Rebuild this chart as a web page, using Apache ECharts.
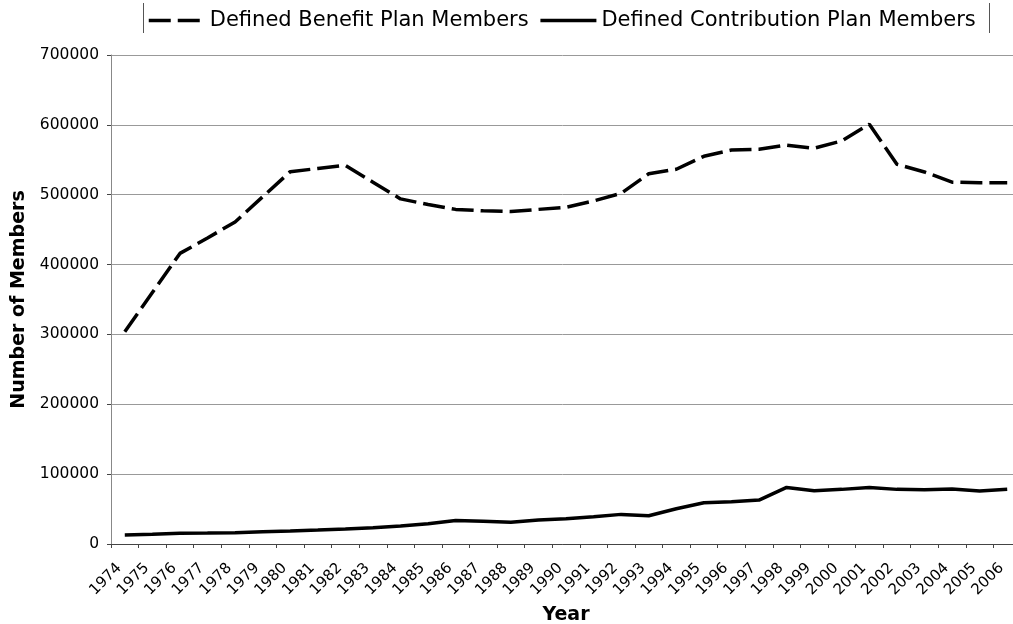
<!DOCTYPE html>
<html>
<head>
<meta charset="utf-8">
<script src="https://cdn.jsdelivr.net/npm/echarts@6/dist/echarts.min.js"></script>
<style>
  html, body { margin: 0; padding: 0; background: #fff; }
  #chart { width: 1013px; height: 624px; }
</style>
</head>
<body>
<div id="chart"></div>
<script>
// Pension plan membership by year
const years = ['1974','1975','1976','1977','1978','1979','1980','1981','1982','1983','1984',
  '1985','1986','1987','1988','1989','1990','1991','1992','1993','1994','1995','1996','1997',
  '1998','1999','2000','2001','2002','2003','2004','2005','2006'];

const definedBenefit = [304000, 360000, 416000, 438000, 461000, 497000, 533000, 537500, 542000,
  518000, 494000, 486000, 479000, 477000, 476000, 479000, 482000, 491000, 502000, 530000,
  536500, 555000, 564000, 565000, 571000, 566500, 577000, 601000, 543600, 532600, 518000,
  517000, 517000];

const definedContribution = [13000, 13800, 15300, 15700, 16200, 17600, 18600, 20000, 21500,
  23400, 25800, 29100, 33800, 32400, 31000, 34300, 36200, 39100, 42400, 40500, 50500, 59100,
  60500, 62900, 81000, 76300, 78200, 81000, 78200, 77700, 78700, 75800, 78200];

const seriesNames = ['Defined Benefit Plan Members', 'Defined Contribution Plan Members'];
const xTitle = 'Year';
const yTitle = 'Number of Members';

const FONT = 'DejaVu Sans';
const DASH = [22, 7];

const chart = echarts.init(document.getElementById('chart'), null, { renderer: 'canvas' });

chart.setOption({
  animation: false,
  backgroundColor: '#fff',
  textStyle: { fontFamily: FONT, color: '#000' },
  legend: {
    left: 147,
    top: 10,
    padding: 0,
    itemWidth: 56,
    itemHeight: 14,
    itemGap: 10,
    itemStyle: { opacity: 0 },
    lineStyle: { width: 3.5, cap: 'butt' },
    textStyle: { fontFamily: FONT, fontSize: 21, color: '#000' },
    data: seriesNames
  },
  graphic: [
    { type: 'line', shape: { x1: 143.5, y1: 3, x2: 143.5, y2: 33 }, style: { stroke: '#555', lineWidth: 1 } },
    { type: 'line', shape: { x1: 989.5, y1: 3, x2: 989.5, y2: 33 }, style: { stroke: '#555', lineWidth: 1 } }
  ],
  grid: { left: 111, right: -8, top: 55, bottom: 80, containLabel: false, outerBoundsMode: 'none' },
  xAxis: {
    type: 'category',
    data: years,
    boundaryGap: true,
    name: xTitle,
    nameLocation: 'middle',
    nameGap: 62,
    nameTextStyle: { fontFamily: FONT, fontSize: 19, fontWeight: 'bold', color: '#000' },
    axisLine: { lineStyle: { color: '#444', width: 1 } },
    axisTick: { show: true, alignWithLabel: false, length: 4, lineStyle: { color: '#444' } },
    axisLabel: {
      rotate: 45, interval: 0, margin: 16, padding: [0, 8, 0, 0],
      fontFamily: FONT, fontSize: 15, color: '#000'
    },
    splitLine: { show: false }
  },
  yAxis: {
    type: 'value',
    min: 0,
    max: 700000,
    interval: 100000,
    name: yTitle,
    nameLocation: 'middle',
    nameRotate: 90,
    nameGap: 82,
    nameTextStyle: { fontFamily: FONT, fontSize: 19, fontWeight: 'bold', color: '#000' },
    axisLine: { show: true, lineStyle: { color: '#888', width: 1 } },
    axisTick: { show: true, length: 4, lineStyle: { color: '#444' } },
    axisLabel: {
      margin: 12, fontFamily: FONT, fontSize: 15.5, color: '#000',
      formatter: v => String(v)
    },
    splitLine: { show: true, lineStyle: { color: '#999', width: 1 } }
  },
  series: [
    {
      name: seriesNames[0],
      type: 'line',
      data: definedBenefit,
      symbol: 'none',
      lineStyle: { color: '#000', width: 3.5, type: DASH, cap: 'butt' },
      itemStyle: { color: '#000' }
    },
    {
      name: seriesNames[1],
      type: 'line',
      data: definedContribution,
      symbol: 'none',
      lineStyle: { color: '#000', width: 3.5, type: 'solid' },
      itemStyle: { color: '#000' }
    }
  ]
});
</script>
</body>
</html>
